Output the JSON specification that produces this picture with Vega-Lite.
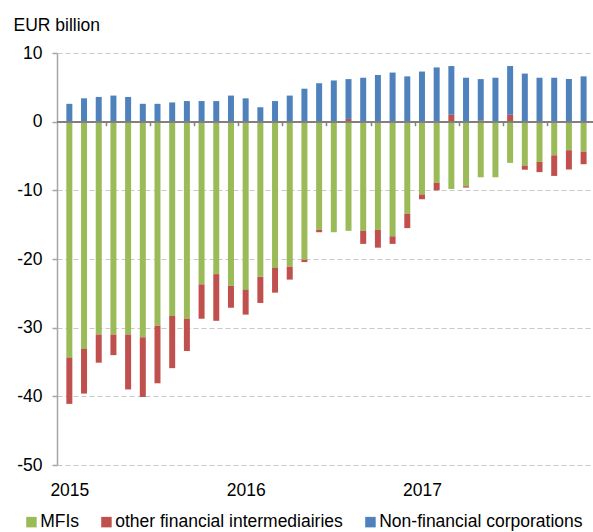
{
  "$schema": "https://vega.github.io/schema/vega-lite/v6.json",
  "autosize": {"type": "none"},
  "padding": {"left": 57, "top": 53, "right": 0, "bottom": 67},
  "width": 536,
  "height": 412,
  "config": {
    "view": {"stroke": null},
    "font": "Liberation Sans",
    "axis": {"labelFont": "Liberation Sans", "titleFont": "Liberation Sans", "labelColor": "#000000", "titleColor": "#000000"},
    "legend": {"labelFont": "Liberation Sans"}
  },
  "datasets": {
    "sectors": [
      {"sector": "MFIs", "rank": 1},
      {"sector": "other financial intermediairies", "rank": 2},
      {"sector": "Non-financial corporations", "rank": 3}
    ]
  },
  "data": {
    "values": [
      {"n": 0, "month": "2015-01", "sector": "MFIs", "value": -34.4},
      {"n": 0, "month": "2015-01", "sector": "other financial intermediairies", "value": -6.7},
      {"n": 0, "month": "2015-01", "sector": "Non-financial corporations", "value": 2.6},
      {"n": 1, "month": "2015-02", "sector": "MFIs", "value": -33.1},
      {"n": 1, "month": "2015-02", "sector": "other financial intermediairies", "value": -6.5},
      {"n": 1, "month": "2015-02", "sector": "Non-financial corporations", "value": 3.4},
      {"n": 2, "month": "2015-03", "sector": "MFIs", "value": -31.0},
      {"n": 2, "month": "2015-03", "sector": "other financial intermediairies", "value": -4.1},
      {"n": 2, "month": "2015-03", "sector": "Non-financial corporations", "value": 3.6},
      {"n": 3, "month": "2015-04", "sector": "MFIs", "value": -31.0},
      {"n": 3, "month": "2015-04", "sector": "other financial intermediairies", "value": -3.0},
      {"n": 3, "month": "2015-04", "sector": "Non-financial corporations", "value": 3.8},
      {"n": 4, "month": "2015-05", "sector": "MFIs", "value": -31.0},
      {"n": 4, "month": "2015-05", "sector": "other financial intermediairies", "value": -8.0},
      {"n": 4, "month": "2015-05", "sector": "Non-financial corporations", "value": 3.6},
      {"n": 5, "month": "2015-06", "sector": "MFIs", "value": -31.4},
      {"n": 5, "month": "2015-06", "sector": "other financial intermediairies", "value": -8.7},
      {"n": 5, "month": "2015-06", "sector": "Non-financial corporations", "value": 2.6},
      {"n": 6, "month": "2015-07", "sector": "MFIs", "value": -29.7},
      {"n": 6, "month": "2015-07", "sector": "other financial intermediairies", "value": -8.4},
      {"n": 6, "month": "2015-07", "sector": "Non-financial corporations", "value": 2.6},
      {"n": 7, "month": "2015-08", "sector": "MFIs", "value": -28.3},
      {"n": 7, "month": "2015-08", "sector": "other financial intermediairies", "value": -7.6},
      {"n": 7, "month": "2015-08", "sector": "Non-financial corporations", "value": 2.8},
      {"n": 8, "month": "2015-09", "sector": "MFIs", "value": -28.7},
      {"n": 8, "month": "2015-09", "sector": "other financial intermediairies", "value": -4.7},
      {"n": 8, "month": "2015-09", "sector": "Non-financial corporations", "value": 3.0},
      {"n": 9, "month": "2015-10", "sector": "MFIs", "value": -23.7},
      {"n": 9, "month": "2015-10", "sector": "other financial intermediairies", "value": -5.0},
      {"n": 9, "month": "2015-10", "sector": "Non-financial corporations", "value": 3.0},
      {"n": 10, "month": "2015-11", "sector": "MFIs", "value": -22.2},
      {"n": 10, "month": "2015-11", "sector": "other financial intermediairies", "value": -6.8},
      {"n": 10, "month": "2015-11", "sector": "Non-financial corporations", "value": 3.0},
      {"n": 11, "month": "2015-12", "sector": "MFIs", "value": -23.9},
      {"n": 11, "month": "2015-12", "sector": "other financial intermediairies", "value": -3.2},
      {"n": 11, "month": "2015-12", "sector": "Non-financial corporations", "value": 3.8},
      {"n": 12, "month": "2016-01", "sector": "MFIs", "value": -24.5},
      {"n": 12, "month": "2016-01", "sector": "other financial intermediairies", "value": -3.6},
      {"n": 12, "month": "2016-01", "sector": "Non-financial corporations", "value": 3.4},
      {"n": 13, "month": "2016-02", "sector": "MFIs", "value": -22.6},
      {"n": 13, "month": "2016-02", "sector": "other financial intermediairies", "value": -3.8},
      {"n": 13, "month": "2016-02", "sector": "Non-financial corporations", "value": 2.1},
      {"n": 14, "month": "2016-03", "sector": "MFIs", "value": -21.3},
      {"n": 14, "month": "2016-03", "sector": "other financial intermediairies", "value": -3.6},
      {"n": 14, "month": "2016-03", "sector": "Non-financial corporations", "value": 3.0},
      {"n": 15, "month": "2016-04", "sector": "MFIs", "value": -21.1},
      {"n": 15, "month": "2016-04", "sector": "other financial intermediairies", "value": -1.9},
      {"n": 15, "month": "2016-04", "sector": "Non-financial corporations", "value": 3.8},
      {"n": 16, "month": "2016-05", "sector": "MFIs", "value": -20.1},
      {"n": 16, "month": "2016-05", "sector": "other financial intermediairies", "value": -0.35},
      {"n": 16, "month": "2016-05", "sector": "Non-financial corporations", "value": 4.8},
      {"n": 17, "month": "2016-06", "sector": "MFIs", "value": -15.75},
      {"n": 17, "month": "2016-06", "sector": "other financial intermediairies", "value": -0.35},
      {"n": 17, "month": "2016-06", "sector": "Non-financial corporations", "value": 5.6},
      {"n": 18, "month": "2016-07", "sector": "MFIs", "value": -16.1},
      {"n": 18, "month": "2016-07", "sector": "other financial intermediairies", "value": 0},
      {"n": 18, "month": "2016-07", "sector": "Non-financial corporations", "value": 6.0},
      {"n": 19, "month": "2016-08", "sector": "MFIs", "value": -15.9},
      {"n": 19, "month": "2016-08", "sector": "other financial intermediairies", "value": 0.4},
      {"n": 19, "month": "2016-08", "sector": "Non-financial corporations", "value": 5.8},
      {"n": 20, "month": "2016-09", "sector": "MFIs", "value": -15.9},
      {"n": 20, "month": "2016-09", "sector": "other financial intermediairies", "value": -1.9},
      {"n": 20, "month": "2016-09", "sector": "Non-financial corporations", "value": 6.4},
      {"n": 21, "month": "2016-10", "sector": "MFIs", "value": -15.75},
      {"n": 21, "month": "2016-10", "sector": "other financial intermediairies", "value": -2.6},
      {"n": 21, "month": "2016-10", "sector": "Non-financial corporations", "value": 6.8},
      {"n": 22, "month": "2016-11", "sector": "MFIs", "value": -16.7},
      {"n": 22, "month": "2016-11", "sector": "other financial intermediairies", "value": -1.1},
      {"n": 22, "month": "2016-11", "sector": "Non-financial corporations", "value": 7.15},
      {"n": 23, "month": "2016-12", "sector": "MFIs", "value": -13.4},
      {"n": 23, "month": "2016-12", "sector": "other financial intermediairies", "value": -2.1},
      {"n": 23, "month": "2016-12", "sector": "Non-financial corporations", "value": 6.6},
      {"n": 24, "month": "2017-01", "sector": "MFIs", "value": -10.6},
      {"n": 24, "month": "2017-01", "sector": "other financial intermediairies", "value": -0.7},
      {"n": 24, "month": "2017-01", "sector": "Non-financial corporations", "value": 7.3},
      {"n": 25, "month": "2017-02", "sector": "MFIs", "value": -8.9},
      {"n": 25, "month": "2017-02", "sector": "other financial intermediairies", "value": -1.1},
      {"n": 25, "month": "2017-02", "sector": "Non-financial corporations", "value": 7.9},
      {"n": 26, "month": "2017-03", "sector": "MFIs", "value": -9.8},
      {"n": 26, "month": "2017-03", "sector": "other financial intermediairies", "value": 1.0},
      {"n": 26, "month": "2017-03", "sector": "Non-financial corporations", "value": 7.1},
      {"n": 27, "month": "2017-04", "sector": "MFIs", "value": -9.4},
      {"n": 27, "month": "2017-04", "sector": "other financial intermediairies", "value": -0.2},
      {"n": 27, "month": "2017-04", "sector": "Non-financial corporations", "value": 6.4},
      {"n": 28, "month": "2017-05", "sector": "MFIs", "value": -8.1},
      {"n": 28, "month": "2017-05", "sector": "other financial intermediairies", "value": 0.2},
      {"n": 28, "month": "2017-05", "sector": "Non-financial corporations", "value": 6.0},
      {"n": 29, "month": "2017-06", "sector": "MFIs", "value": -8.1},
      {"n": 29, "month": "2017-06", "sector": "other financial intermediairies", "value": 0},
      {"n": 29, "month": "2017-06", "sector": "Non-financial corporations", "value": 6.4},
      {"n": 30, "month": "2017-07", "sector": "MFIs", "value": -6.0},
      {"n": 30, "month": "2017-07", "sector": "other financial intermediairies", "value": 1.0},
      {"n": 30, "month": "2017-07", "sector": "Non-financial corporations", "value": 7.1},
      {"n": 31, "month": "2017-08", "sector": "MFIs", "value": -6.4},
      {"n": 31, "month": "2017-08", "sector": "other financial intermediairies", "value": -0.6},
      {"n": 31, "month": "2017-08", "sector": "Non-financial corporations", "value": 7.0},
      {"n": 32, "month": "2017-09", "sector": "MFIs", "value": -5.85},
      {"n": 32, "month": "2017-09", "sector": "other financial intermediairies", "value": -1.5},
      {"n": 32, "month": "2017-09", "sector": "Non-financial corporations", "value": 6.4},
      {"n": 33, "month": "2017-10", "sector": "MFIs", "value": -4.9},
      {"n": 33, "month": "2017-10", "sector": "other financial intermediairies", "value": -3.0},
      {"n": 33, "month": "2017-10", "sector": "Non-financial corporations", "value": 6.4},
      {"n": 34, "month": "2017-11", "sector": "MFIs", "value": -4.15},
      {"n": 34, "month": "2017-11", "sector": "other financial intermediairies", "value": -2.8},
      {"n": 34, "month": "2017-11", "sector": "Non-financial corporations", "value": 6.2},
      {"n": 35, "month": "2017-12", "sector": "MFIs", "value": -4.35},
      {"n": 35, "month": "2017-12", "sector": "other financial intermediairies", "value": -1.85},
      {"n": 35, "month": "2017-12", "sector": "Non-financial corporations", "value": 6.6}
    ]
  },
  "layer": [
    {
      "transform": [
        {"lookup": "sector", "from": {"data": {"name": "sectors"}, "key": "sector", "fields": ["rank"]}}
      ],
      "mark": {"type": "bar", "width": 6},
      "encoding": {
        "x": {
          "field": "n",
          "type": "quantitative",
          "scale": {"domain": [-0.5, 35.3], "nice": false, "zero": false},
          "axis": {
            "title": null,
            "values": [0, 2.5, 5.5, 8.5, 11.5, 12, 14.5, 17.5, 20.5, 23.5, 24, 26.5, 29.5, 32.5],
            "labelExpr": "datum.value === 0 ? '2015' : datum.value === 12 ? '2016' : datum.value === 24 ? '2017' : ''",
            "offset": -343.33,
            "domain": false,
            "grid": false,
            "ticks": true,
            "tickSize": 4,
            "tickWidth": 1.5,
            "tickColor": "#808080",
            "tickOpacity": {"condition": {"test": "datum.value % 1 === 0", "value": 0}, "value": 1},
            "labelPadding": 355.7,
            "labelFontSize": 17.5,
            "labelOverlap": false,
            "labelFlush": false,
            "labelBound": false
          }
        },
        "y": {
          "field": "value",
          "type": "quantitative",
          "stack": "zero",
          "scale": {"domain": [-50, 10], "nice": false},
          "axis": {
            "title": "EUR billion",
            "titleAngle": 0,
            "titleAlign": "left",
            "titleBaseline": "alphabetic",
            "titleX": -44,
            "titleY": -23,
            "titleFontSize": 17.5,
            "titleFontWeight": "normal",
            "values": [-50, -40, -30, -20, -10, 0, 10],
            "labelExpr": "datum.value < 0 ? '-' + abs(datum.value) : '' + datum.value",
            "labelFontSize": 17.5,
            "labelPadding": 10,
            "domainColor": "#A6A6A6",
            "domainWidth": 1.5,
            "tickColor": "#A6A6A6",
            "tickWidth": 1.5,
            "tickSize": 5,
            "grid": true,
            "gridColor": "#C8C8C8",
            "gridDash": [5, 3],
            "gridWidth": 1
          }
        },
        "order": {"field": "rank", "type": "quantitative", "sort": "ascending"},
        "color": {
          "field": "sector",
          "type": "nominal",
          "scale": {
            "domain": ["MFIs", "other financial intermediairies", "Non-financial corporations"],
            "range": ["#9BBB59", "#C0504D", "#4F81BD"]
          },
          "legend": {
            "title": null,
            "orient": "none",
            "direction": "horizontal",
            "columns": 3,
            "legendX": -34.3,
            "legendY": 460,
            "padding": 0,
            "symbolType": "square",
            "symbolSize": 110,
            "symbolStrokeWidth": 0,
            "symbolOpacity": 1,
            "labelFontSize": 17.5,
            "labelColor": "#000000",
            "labelOffset": 0,
            "labelLimit": 500,
            "columnPadding": 18
          }
        }
      }
    },
    {
      "mark": {"type": "rule", "color": "#808080", "strokeWidth": 1.5},
      "encoding": {"y": {"datum": 0}}
    }
  ]
}
